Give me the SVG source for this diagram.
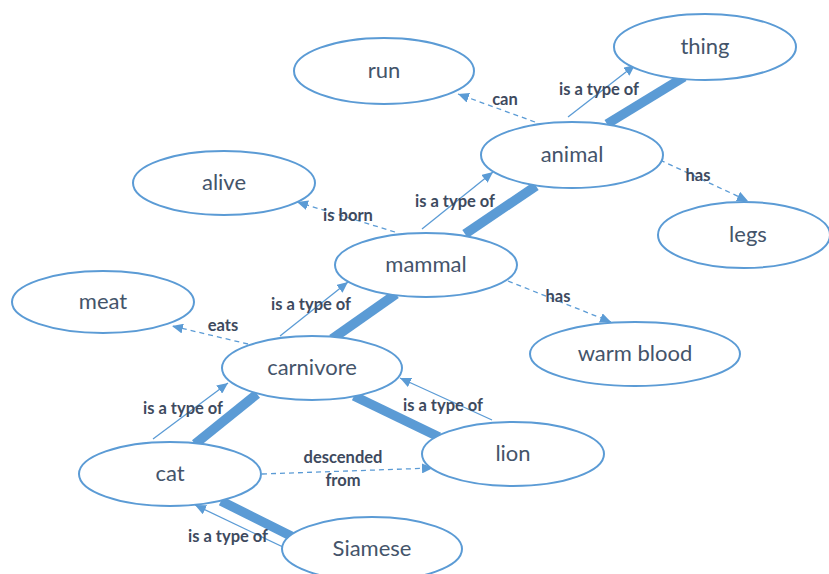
<svg xmlns="http://www.w3.org/2000/svg" width="829" height="574" viewBox="0 0 829 574">
  <defs>
    <style>
      .node ellipse { fill: #ffffff; stroke: #5B9BD5; stroke-width: 2; }
      .node text { font-family: Lato, "Open Sans", sans-serif; font-size: 22px; fill: #44546A; text-anchor: middle; }
      .spine { stroke: #5B9BD5; stroke-width: 9.5; stroke-linecap: butt; fill: none; }
      .isa { stroke: #5B9BD5; stroke-width: 1.3; fill: none; marker-end: url(#arrow); }
      .rel { stroke: #5B9BD5; stroke-width: 1.3; stroke-dasharray: 5 4; fill: none; marker-end: url(#arrow); }
      .label { font-family: Lato, "Open Sans", sans-serif; font-weight: bold; font-size: 16.5px; fill: #3E4A5E; text-anchor: middle; }
    </style>
    <marker id="arrow" markerUnits="userSpaceOnUse" markerWidth="12" markerHeight="10" refX="11" refY="5" orient="auto">
      <path d="M0,0 L11,5 L0,10 z" fill="#5B9BD5"/>
    </marker>
  </defs>

  <rect width="829" height="574" fill="#ffffff"/>

  <!-- connectors: thick taxonomy spine, thin "is a type of" arrows, dashed relations -->
  <g id="connectors">
    <line class="spine" x1="684" y1="77" x2="607" y2="124"/>
    <line class="spine" x1="536" y1="186" x2="465" y2="234"/>
    <line class="spine" x1="396" y1="294" x2="332" y2="339"/>
    <line class="spine" x1="257" y1="394" x2="195" y2="444"/>
    <line class="spine" x1="354" y1="396" x2="439" y2="437"/>
    <line class="spine" x1="221" y1="501" x2="293" y2="537"/>

    <line class="isa" x1="568" y1="117" x2="635" y2="65"/>
    <line class="isa" x1="422" y1="229" x2="493" y2="172"/>
    <line class="isa" x1="280" y1="336" x2="348" y2="282"/>
    <line class="isa" x1="153" y1="439" x2="228" y2="383"/>
    <line class="isa" x1="492" y1="420" x2="400" y2="378"/>
    <line class="isa" x1="283" y1="547" x2="195" y2="505"/>

    <line class="rel" x1="535" y1="122" x2="458" y2="94"/>
    <line class="rel" x1="395" y1="232" x2="297" y2="202"/>
    <line class="rel" x1="248" y1="344" x2="172" y2="326"/>
    <line class="rel" x1="660" y1="160" x2="748" y2="201"/>
    <line class="rel" x1="508" y1="281" x2="611" y2="322"/>
    <line class="rel" x1="262" y1="474" x2="433" y2="468"/>

    <text class="label" x="505" y="105">can</text>
    <text class="label" x="599" y="95">is a type of</text>
    <text class="label" x="698" y="181">has</text>
    <text class="label" x="348" y="221">is born</text>
    <text class="label" x="455" y="207">is a type of</text>
    <text class="label" x="558" y="302">has</text>
    <text class="label" x="311" y="310">is a type of</text>
    <text class="label" x="223" y="331">eats</text>
    <text class="label" x="183" y="414">is a type of</text>
    <text class="label" x="443" y="411">is a type of</text>
    <text class="label" x="343" y="463">descended</text>
    <text class="label" x="343" y="486">from</text>
    <text class="label" x="228" y="542">is a type of</text>
  </g>

  <g id="thing" class="node"><ellipse cx="705" cy="47" rx="91" ry="33"/><text x="705" y="54">thing</text></g>
  <g id="run" class="node"><ellipse cx="384" cy="71" rx="90" ry="33"/><text x="384" y="78">run</text></g>
  <g id="animal" class="node"><ellipse cx="572" cy="155" rx="91" ry="33"/><text x="572" y="162">animal</text></g>
  <g id="alive" class="node"><ellipse cx="224" cy="183" rx="91" ry="32"/><text x="224" y="190">alive</text></g>
  <g id="legs" class="node"><ellipse cx="744" cy="235" rx="86" ry="33"/><text x="748" y="242">legs</text></g>
  <g id="mammal" class="node"><ellipse cx="426" cy="265" rx="91" ry="32"/><text x="426" y="272">mammal</text></g>
  <g id="meat" class="node"><ellipse cx="103" cy="302" rx="91" ry="31"/><text x="103" y="309">meat</text></g>
  <g id="warm-blood" class="node"><ellipse cx="635" cy="354" rx="105" ry="32"/><text x="635" y="361">warm blood</text></g>
  <g id="carnivore" class="node"><ellipse cx="312" cy="368" rx="90" ry="32"/><text x="312" y="375">carnivore</text></g>
  <g id="cat" class="node"><ellipse cx="170" cy="474" rx="91" ry="32"/><text x="170" y="481">cat</text></g>
  <g id="lion" class="node"><ellipse cx="513" cy="454" rx="91" ry="32"/><text x="513" y="461">lion</text></g>
  <g id="siamese" class="node"><ellipse cx="372" cy="549" rx="90" ry="32"/><text x="372" y="556">Siamese</text></g>
</svg>
